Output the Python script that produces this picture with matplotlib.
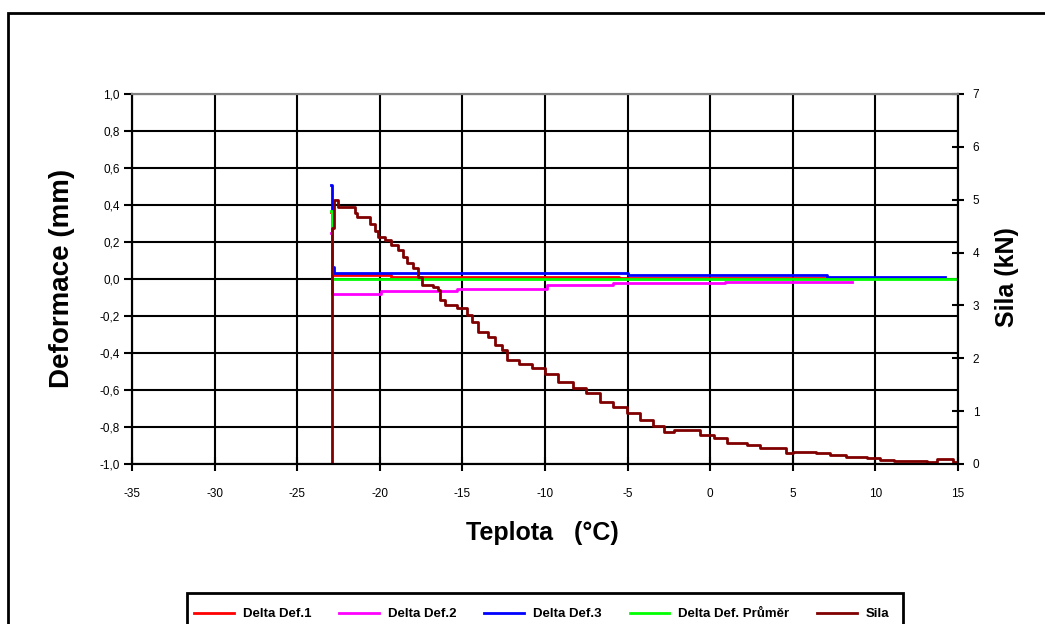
import matplotlib
matplotlib.use('Agg')
import matplotlib.pyplot as plt
from matplotlib.patches import Rectangle
from matplotlib.ticker import FuncFormatter, MultipleLocator

plt.rcParams['font.family'] = ['Liberation Sans', 'DejaVu Sans']

# Sila (kN) vs. teplota, step-like recording
temp_sila = [-22.92, -22.92, -22.75, -22.5, -21.5, -21.4, -20.6, -20.3, -20.1, -19.7,
             -19.3, -18.9, -18.6, -18.35, -18.0, -17.7, -17.45, -16.8, -16.5, -16.35,
             -16.05, -15.3, -14.7, -14.4, -14.05, -13.45, -13.0, -12.6, -12.3, -11.6,
             -10.8, -10.0, -9.2, -8.3, -7.5, -6.7, -5.9, -5.05, -4.25, -3.45,
             -2.8, -2.2, -0.6, 0.2, 1.0, 2.2, 3.0, 4.6, 5.0, 6.4,
             7.25, 8.25, 9.5, 10.3, 11.1, 13.1, 13.7, 14.7, 15.0]
sila = [0.0, 4.46, 5.0, 4.87, 4.75, 4.68, 4.55, 4.40, 4.30, 4.24,
        4.14, 4.05, 3.92, 3.80, 3.70, 3.54, 3.39, 3.35, 3.29, 3.10,
        3.01, 2.95, 2.82, 2.69, 2.50, 2.41, 2.25, 2.16, 1.97, 1.90,
        1.81, 1.70, 1.55, 1.43, 1.34, 1.18, 1.08, 0.96, 0.83, 0.71,
        0.61, 0.64, 0.55, 0.49, 0.39, 0.36, 0.30, 0.20, 0.23, 0.20,
        0.17, 0.14, 0.11, 0.08, 0.06, 0.03, 0.09, 0.04, 0.03]

# Delta deformace (mm)
temp_det1 = [-22.97, -22.92, -19.3, -5.5, 8.6]
det1 = [0.36, 0.022, 0.012, 0.003, 0.003]

temp_det2 = [-22.97, -22.92, -19.9, -15.3, -9.9, -5.9, 0.9, 8.6]
det2 = [0.25, -0.08, -0.067, -0.055, -0.035, -0.024, -0.015, -0.015]

temp_det3 = [-22.97, -22.92, -22.75, -5.0, 7.05, 14.2]
det3 = [0.51, 0.066, 0.034, 0.023, 0.012, 0.012]

temp_avg = [-22.97, -22.92, 14.9]
det_avg = [0.37, 0.0, 0.0]

labels = ['Delta Def.1', 'Delta Def.2', 'Delta Def.3', 'Delta Def. Průměr', 'Sila']
colors = ['#FF0000', '#FF00FF', '#0000FF', '#00FF00', '#800000']

fig = plt.figure(figsize=(10.45, 6.24), dpi=100)
ax = fig.add_axes([132/1045, 1 - 464/624, 826/1045, 370/624])
ax2 = ax.twinx()

lw = 2.0
h1, = ax.plot(temp_det1, det1, drawstyle='steps-post', color=colors[0], lw=lw)
h2, = ax.plot(temp_det2, det2, drawstyle='steps-post', color=colors[1], lw=lw)
h3, = ax.plot(temp_det3, det3, drawstyle='steps-post', color=colors[2], lw=lw)
h4, = ax.plot(temp_avg, det_avg, drawstyle='steps-post', color=colors[3], lw=lw)
h5, = ax2.plot(temp_sila, sila, drawstyle='steps-post', color=colors[4], lw=lw)

ax.set_xlim(-35, 15)
ax.set_ylim(-1.0, 1.0)
ax2.set_ylim(0, 7)
ax.xaxis.set_major_locator(MultipleLocator(5))
ax.yaxis.set_major_locator(MultipleLocator(0.2))
ax2.yaxis.set_major_locator(MultipleLocator(1))
ax.yaxis.set_major_formatter(FuncFormatter(lambda v, p: f"{v:.1f}".replace('.', ',').replace('-0,0', '0,0')))
ax.xaxis.set_major_formatter(FuncFormatter(lambda v, p: f"{v:.0f}"))

ax.set_axisbelow(True)
ax.grid(True, color='black', lw=1.5)
for a in (ax, ax2):
    for s in a.spines.values():
        s.set_linewidth(1.5)
        s.set_color('black')
    a.spines['top'].set_color('#808080')

ax.tick_params(axis='y', direction='out', length=6, width=1.5, labelsize=8.5, pad=3)
ax.tick_params(axis='x', direction='inout', length=10, width=1.5, labelsize=8.5, pad=12)
ax2.tick_params(axis='y', direction='inout', length=9, width=1.5, labelsize=8.5, pad=6)

fig.text(62/1045, 1 - 278/624, 'Deformace (mm)', rotation=90, ha='center', va='center',
         fontsize=20, fontweight='bold')
fig.text(1007/1045, 1 - 277/624, 'Sila (kN)', rotation=90, ha='center', va='center',
         fontsize=18, fontweight='bold')
fig.text(542/1045, 1 - 533/624, 'Teplota   (°C)', ha='center', va='center',
         fontsize=18, fontweight='bold')

# chart frame and legend box (both run off the picture edge)
fig.patches.append(Rectangle((8/1045, -0.1), 1.2, 1.1 - 13/624, transform=fig.transFigure,
                             fill=False, lw=2, edgecolor='black'))
fig.patches.append(Rectangle((187/1045, -0.1), (903 - 187)/1045, 0.1 + 1 - 593/624,
                             transform=fig.transFigure, fill=False, lw=2, edgecolor='black'))

fig.legend([h1, h2, h3, h4, h5], labels, ncol=5, loc='center',
           bbox_to_anchor=(542/1045, 1 - 614/624), frameon=False,
           handlelength=3.0, handletextpad=0.7, columnspacing=2.1,
           prop={'weight': 'bold', 'size': 9.5})

fig.savefig('out.png', dpi=100)
